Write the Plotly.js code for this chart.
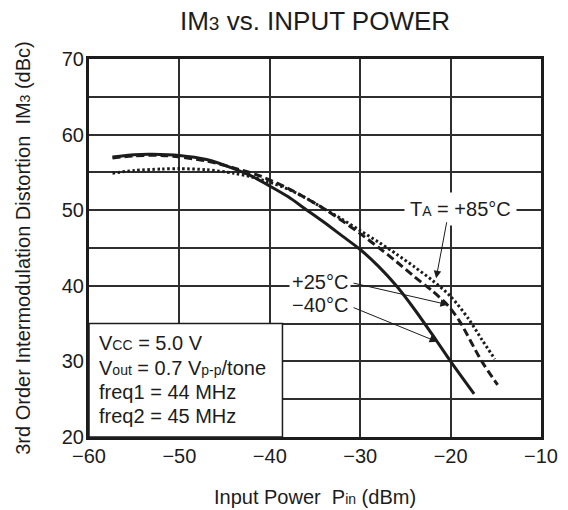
<!DOCTYPE html>
<html>
<head>
<meta charset="utf-8">
<script src="https://cdn.plot.ly/plotly-3.0.1.min.js"></script>
<style>html,body{margin:0;padding:0;background:#fff;}#chart{width:568px;height:510px;}</style>
</head>
<body>
<div id="chart"></div>
<script>
// Input power (dBm) and IM3 (dBc) per temperature
const xNeg40 = [-57.4,-55,-53,-50,-47,-44,-42,-40,-38,-36,-34,-32,-30,-28,-26,-24,-22,-20,-17.4];
const yNeg40 = [57.05,57.35,57.4,57.25,56.7,55.5,54.5,53.2,51.8,50.1,48.4,46.6,44.8,42.6,40.0,36.9,33.5,30.0,25.7];
const xPos25 = [-57.4,-55,-52,-50,-47,-44,-41,-38,-36,-34,-32,-30,-28,-26,-24,-22,-20.3,-19,-16.6,-14.8];
const yPos25 = [56.9,57.2,57.25,57.05,56.5,55.6,54.5,52.9,51.6,50.2,48.6,46.9,45.1,43.2,41.2,39.3,37.4,35.3,30.1,26.9];
const xPos85 = [-57.4,-55,-52,-50,-47,-44,-42,-40,-38,-36,-34,-32,-30,-28,-26,-24,-22,-20,-18,-16.5,-15.1];
const yPos85 = [54.9,55.25,55.45,55.5,55.35,54.9,54.4,53.7,52.8,51.6,50.2,48.8,47.3,45.8,44.2,42.5,40.7,38.6,35.6,32.8,30.3];

const xTicks = [-60,-50,-40,-30,-20,-10];
const yTicks = [20,30,40,50,60,70];

const seriesLabels = ['T<span style="font-size:14px">A</span> = +85°C', '+25°C', '\u221240°C'];
const conditionLines = [
  'V<span style="font-size:14px">CC</span> = 5.0 V',
  'V<span style="font-size:14px">out</span> = 0.7 V<span style="font-size:14px">p-p</span>/tone',
  'freq1 = 44 MHz',
  'freq2 = 45 MHz'
];

const FONT = 'Liberation Sans, Arial, Helvetica, sans-serif';
const INK = '#1c1c1c';
const GRID = '#2e2e2e';

const traces = [
  {x: xNeg40, y: yNeg40, mode: 'lines', name: '-40°C',
   line: {color: INK, width: 3, shape: 'spline', smoothing: 0.8}},
  {x: xPos25, y: yPos25, mode: 'lines', name: '+25°C',
   line: {color: INK, width: 3, dash: '8px,4px', shape: 'spline', smoothing: 0.8}},
  {x: xPos85, y: yPos85, mode: 'lines', name: '+85°C',
   line: {color: INK, width: 3, dash: '2.5px,2.5px', shape: 'spline', smoothing: 0.8}}
];

const ann = [];
ann.push({xref:'x', yref:'y', x:-18.96, y:50.2, text: seriesLabels[0], showarrow:false,
  xanchor:'center', yanchor:'middle', bgcolor:'#fff', borderpad:5, font:{family:FONT,size:20,color:INK}});
ann.push({xref:'x', yref:'y', x:-37.9, y:40.5, text: seriesLabels[1], showarrow:false,
  xanchor:'left', yanchor:'middle', bgcolor:'#fff', borderpad:2, font:{family:FONT,size:20,color:INK}});
ann.push({xref:'x', yref:'y', x:-37.9, y:37.4, text: seriesLabels[2], showarrow:false,
  xanchor:'left', yanchor:'middle', bgcolor:'rgba(255,255,255,0)', borderpad:2, font:{family:FONT,size:20,color:INK}});
const arrows = [
  {ax:-20.4, ay:48.6, x:-21.6, y:41.0},
  {ax:-30.9, ay:40.4, x:-20.3, y:37.5},
  {ax:-30.9, ay:37.2, x:-21.5, y:32.6}
];
arrows.forEach(a => ann.push({xref:'x', yref:'y', axref:'x', ayref:'y', x:a.x, y:a.y, ax:a.ax, ay:a.ay,
  text:'', showarrow:true, arrowhead:2, arrowsize:1.5, arrowwidth:1, arrowcolor:INK, standoff:0, startstandoff:0}));
const lineY = [32.43, 29.13, 25.95, 22.78];
conditionLines.forEach((t,i) => ann.push({xref:'x', yref:'y', x:-59.15, y:lineY[i], text:t, showarrow:false,
  xanchor:'left', yanchor:'middle', font:{family:FONT,size:20,color:INK}}));

const layout = {
  width: 568, height: 510,
  margin: {l:89, r:27, t:59, b:73, pad:0},
  paper_bgcolor:'#fff', plot_bgcolor:'#fff',
  showlegend:false,
  font: {family: FONT, color: INK, size: 20},
  title: {text: 'IM<span style="font-size:19px">3</span> vs. INPUT POWER',
    font: {family: FONT, size: 26, color: INK},
    xref:'paper', x:0.5, xanchor:'center', yref:'container', y:1-21/510, yanchor:'middle'},
  xaxis: {range:[-60,-10], tickvals:xTicks, ticktext:xTicks.map(v => v<0 ? '\u2212'+Math.abs(v) : String(v)),
    showgrid:true, gridcolor:GRID, gridwidth:2, zeroline:false,
    showline:true, linecolor:INK, linewidth:3, mirror:true, ticks:'', ticklabelstandoff:-1,
    tickfont:{family:FONT,size:20,color:INK},
    title:{text:'Input Power\u00a0 P<span style="font-size:14px">in</span> (dBm)', font:{family:FONT,size:20,color:INK}, standoff:24}},
  yaxis: {range:[20,70], tickvals:yTicks,
    showgrid:true, gridcolor:GRID, gridwidth:2, zeroline:false,
    minor:{dtick:5, tick0:20, showgrid:true, gridcolor:GRID, gridwidth:2, ticks:''},
    showline:true, linecolor:INK, linewidth:3, mirror:true, ticks:'', ticklabelstandoff:-2,
    tickfont:{family:FONT,size:20,color:INK},
    title:{text:'3rd Order Intermodulation Distortion\u00a0 IM<span style="font-size:14px">3</span> (dBc)', font:{family:FONT,size:20,color:INK}, standoff:26}},
  shapes: [
    {type:'rect', xref:'x', yref:'y', x0:-60, x1:-38.6, y0:20, y1:35, layer:'between',
     fillcolor:'#fff', line:{color:INK, width:1.5}}
  ],
  annotations: ann
};

Plotly.newPlot('chart', traces, layout, {staticPlot:true, displayModeBar:false});
</script>
</body>
</html>
